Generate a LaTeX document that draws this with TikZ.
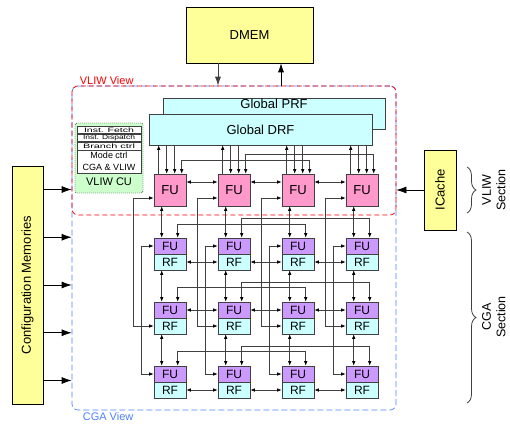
\documentclass[tikz,border=0pt]{standalone}
\usepackage{fontspec}
\setmainfont{Liberation Sans}
\usetikzlibrary{arrows.meta, positioning, calc, decorations.pathreplacing}
\definecolor{memyellow}{HTML}{FFFF99}
\definecolor{vliwfu}{HTML}{FF99CC}
\definecolor{cgafu}{HTML}{CC99FF}
\definecolor{regfile}{HTML}{CCFFFF}
\definecolor{cugreen}{HTML}{CCFFCC}
\definecolor{vliwred}{HTML}{FF0000}
\definecolor{cgablue}{HTML}{4D7FFF}
\definecolor{wiregray}{HTML}{404040}
\definecolor{edgegray}{HTML}{404040}
\newcommand{\fsz}[1]{\fontsize{#1}{#1}\selectfont}

\begin{document}
\begin{tikzpicture}[
    x=1pt, y=-1pt,
    >={Latex[length=4.5pt, width=3.5pt, color=black]},
    % --- block styles ---
    mem/.style={draw=black, fill=memyellow, line width=0.6pt,
      inner sep=0pt, font=\fsz{13}},
    gfile/.style={draw=edgegray, fill=regfile, line width=0.6pt,
      inner sep=0pt, font=\fsz{13}},
    vfu/.style={draw=edgegray, fill=vliwfu, minimum size=32pt,
      inner sep=0pt, line width=0.6pt, font=\fsz{13}},
    cfu/.style={draw=edgegray, fill=cgafu, minimum width=32pt,
      minimum height=16pt, inner sep=0pt, line width=0.6pt, font=\fsz{12}},
    crf/.style={cfu, fill=regfile},
    cubox/.style={draw=edgegray, fill=white, minimum width=64pt,
      inner sep=0pt, line width=0.5pt},
    view/.style={rounded corners=6pt, line width=0.7pt,
      minimum width=324pt, inner sep=0pt},
    viewlbl/.style={font=\fsz{11}, inner sep=1pt},
    seclbl/.style={font=\fontsize{12.5}{14.5}\selectfont, align=center,
      rotate=90, anchor=north, inner sep=0pt},
    wire/.style={draw=wiregray, line width=0.65pt},
    bigarr/.style={draw=black, line width=0.7pt,
      -{Latex[length=10pt, width=7pt]}},
    midarr/.style={draw=black, line width=0.7pt,
      -{Latex[length=9pt, width=6pt]}},
    brace/.style={draw=wiregray, line width=0.8pt,
      decorate, decoration={brace, amplitude=9pt}},
  ]
  \useasboundingbox (0,0) rectangle (510,423);

  % ── View frames ──
  \node[view, draw=cgablue, dash pattern=on 6pt off 3pt,
        minimum height=324pt] (cgaview) at (234,248) {};
  \node[view, draw=vliwred, dash pattern=on 5pt off 3pt,
        minimum height=129pt] (vliwview) at (234,150.5) {};
  \node[viewlbl, text=vliwred, anchor=south west]
    (vliwlbl) at ([xshift=7pt]vliwview.north west) {VLIW View};
  \node[viewlbl, text=cgablue, anchor=north west]
    (cgalbl) at ([xshift=10pt, yshift=-1pt]cgaview.south west) {CGA View};

  % ── Memories and caches ──
  \node[mem, minimum width=127pt, minimum height=56pt] (dmem) at (249.5,35) {DMEM};
  \node[mem, minimum width=31pt, minimum height=238pt] (cfg) at (27.5,285)
    {\rotatebox{90}{Configuration Memories}};
  \node[mem, minimum width=32pt, minimum height=80pt] (icache) at (440,190)
    {\rotatebox{90}{ICache}};

  % ── Global register files ──
  \node[gfile, minimum width=222pt, minimum height=31pt] (prf) at (274,113.5) {};
  \node[font=\fsz{13}, inner sep=0pt, below=1pt of prf.north] (prflbl) {Global PRF};
  \node[gfile, minimum width=223pt, minimum height=31pt] (drf) at (260.5,129.5) {Global DRF};

  % ── VLIW control unit ──
  \node[draw, fill=cugreen, dash pattern=on 1pt off 1pt, rounded corners=2pt,
        minimum width=68pt, minimum height=70pt] (cu) at (109,158) {};
  \node[cubox, minimum height=7.4pt, anchor=north] (fetch) at (109,126)
    {\resizebox{50pt}{4.6pt}{Inst. Fetch}};
  \node[cubox, minimum height=7.4pt, below=0pt of fetch] (dispatch)
    {\resizebox{52pt}{4.6pt}{Inst. Dispatch}};
  \node[cubox, minimum height=7.8pt, below=0pt of dispatch] (branch)
    {\resizebox{52pt}{4.6pt}{Branch ctrl}};
  \node[cubox, minimum height=22.5pt, below=0pt of branch, align=center,
        font=\fontsize{9}{12}\selectfont] (mode) {Mode ctrl\\CGA \& VLIW};
  \node[font=\fsz{11}, inner sep=0pt] (culbl) at (109,182) {VLIW CU};

  % ── FU / RF array ──
  \foreach \c/\x in {1/170, 2/234, 3/298, 4/362} {
    \node[vfu] (vfu\c) at (\x,190) {FU};
    \foreach \r/\y in {1/238, 2/302, 3/366} {
      \node[cfu] (fu\r\c) at (\x,\y+8) {FU};
      \node[crf] (rf\r\c) at (\x,\y+24) {RF};
    }
  }

  % ── Global DRF <-> VLIW FUs ──
  \foreach \c in {1,...,4} {
    \draw[wire, ->] ([xshift=5pt]vfu\c.north west)
      -- ([xshift=5pt]vfu\c.north west |- drf.south);
    \draw[wire, ->] ([xshift=13pt]vfu\c.north west |- drf.south)
      -- ([xshift=13pt]vfu\c.north west);
    \draw[wire, ->] ([xshift=21pt]vfu\c.north west |- drf.south)
      -- ([xshift=21pt]vfu\c.north west);
  }
  \draw[wire, <->] ([xshift=28pt]vfu1.north west) -- ++(0,-13)
    -| ([xshift=28pt]vfu3.north west);
  \draw[wire, <->] ([xshift=28pt]vfu2.north west) -- ++(0,-19)
    -| ([xshift=28pt]vfu4.north west);

  % ── Vertical links between rows ──
  \foreach \c in {1,...,4} {
    \draw[wire, <->] ([xshift=8pt]vfu\c.south west) -- ([xshift=8pt]fu1\c.north west);
    \draw[wire, <->] ([xshift=8pt]rf1\c.south west) -- ([xshift=8pt]fu2\c.north west);
    \draw[wire, <->] ([xshift=8pt]rf2\c.south west) -- ([xshift=8pt]fu3\c.north west);
  }
  \draw[wire, <->] ([xshift=24pt]fu11.north west) -- ++(0,-13) -| ([xshift=24pt]fu13.north west);
  \draw[wire, <->] ([xshift=24pt]fu12.north west) -- ++(0,-19) -| ([xshift=24pt]fu14.north west);
  \draw[wire, <->] ([xshift=24pt]fu21.north west) -- ++(0,-14) -| ([xshift=24pt]fu23.north west);
  \draw[wire, <->] ([xshift=24pt]fu22.north west) -- ++(0,-19) -| ([xshift=24pt]fu24.north west);
  \draw[wire, <->] ([xshift=24pt]fu31.north west) -- ++(0,-14) -| ([xshift=24pt]fu33.north west);
  \draw[wire, <->] ([xshift=24pt]fu32.north west) -- ++(0,-19) -| ([xshift=24pt]fu34.north west);

  % ── Horizontal neighbour links ──
  \foreach \c/\n in {1/2, 2/3, 3/4} {
    \draw[wire, <->] ([yshift=8pt]vfu\c.east) -- ([yshift=8pt]vfu\n.west);
    \draw[wire, <->] (rf1\c.east) -- (rf1\n.west);
    \draw[wire, <->] (fu2\c.east) -- (fu2\n.west);
    \draw[wire, <->] (rf3\c.east) -- (rf3\n.west);
  }

  % ── Column feed lines ──
  \foreach \c in {1,...,4} {
    \draw[wire, <->] ([yshift=-8pt]vfu\c.west) -- ++(-20,0) |- (rf2\c.west);
    \draw[wire, <->] (fu1\c.west) -- ++(-12,0) |- (fu3\c.west);
  }

  % ── Memory ports ──
  \draw[midarr, draw=wiregray] ([xshift=-31.5pt]dmem.south)
    -- ([xshift=-31.5pt]dmem.south |- vliwview.north);
  \draw[midarr] ([xshift=31.5pt]dmem.south |- vliwview.north)
    -- ([xshift=31.5pt]dmem.south);
  \draw[bigarr] (icache.west) -- (icache.west -| vliwview.east);
  \foreach \dy in {-95.5, -47.75, 0, 47.75, 95.5}
    \draw[bigarr] ([yshift=\dy pt]cfg.east) -- ([yshift=\dy pt]cfg.east -| cgaview.west);

  % ── Section braces ──
  \draw[brace] (467,167) -- (467,213);
  \draw[brace] (467,232) -- (467,403);
  \node[seclbl] (vliwsec) at (482,190) {VLIW\\Section};
  \node[seclbl] (cgasec) at (482,317) {CGA\\Section};

\end{tikzpicture}
\end{document}
